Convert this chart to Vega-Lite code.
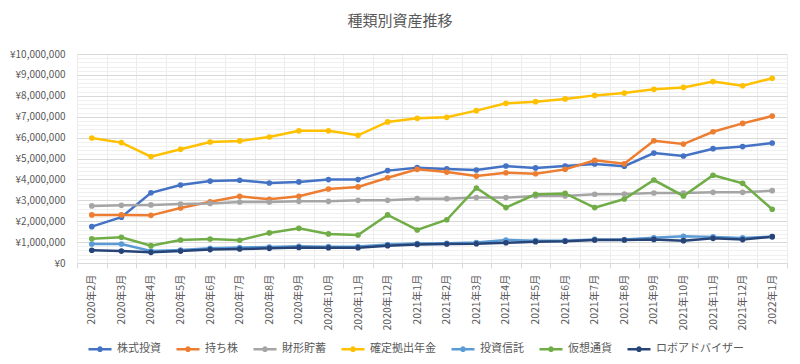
{
  "$schema": "https://vega.github.io/schema/vega-lite/v6.json",
  "width": 710,
  "height": 209,
  "autosize": {"type": "none"},
  "padding": {"left": 77, "top": 54, "right": 13, "bottom": 101},
  "background": "white",
  "title": {
    "text": "種類別資産推移",
    "font": "Noto Sans CJK JP",
    "fontSize": 15,
    "fontWeight": "normal",
    "color": "#595959",
    "anchor": "middle",
    "dx": -32,
    "offset": 20
  },
  "config": {
    "font": "Noto Sans CJK JP",
    "view": {"stroke": null},
    "axis": {"labelFont": "Noto Sans CJK JP", "labelColor": "#595959", "labelFontSize": 10}
  },
  "data": {
    "values": [
      {"m":"2020年2月","s":"株式投資","v":1740000},{"m":"2020年3月","s":"株式投資","v":2190000},{"m":"2020年4月","s":"株式投資","v":3360000},{"m":"2020年5月","s":"株式投資","v":3730000},{"m":"2020年6月","s":"株式投資","v":3920000},{"m":"2020年7月","s":"株式投資","v":3960000},{"m":"2020年8月","s":"株式投資","v":3830000},{"m":"2020年9月","s":"株式投資","v":3880000},{"m":"2020年10月","s":"株式投資","v":3990000},{"m":"2020年11月","s":"株式投資","v":3990000},{"m":"2020年12月","s":"株式投資","v":4420000},{"m":"2021年1月","s":"株式投資","v":4560000},{"m":"2021年2月","s":"株式投資","v":4500000},{"m":"2021年3月","s":"株式投資","v":4450000},{"m":"2021年4月","s":"株式投資","v":4640000},{"m":"2021年5月","s":"株式投資","v":4550000},{"m":"2021年6月","s":"株式投資","v":4640000},{"m":"2021年7月","s":"株式投資","v":4740000},{"m":"2021年8月","s":"株式投資","v":4630000},{"m":"2021年9月","s":"株式投資","v":5260000},{"m":"2021年10月","s":"株式投資","v":5120000},{"m":"2021年11月","s":"株式投資","v":5470000},{"m":"2021年12月","s":"株式投資","v":5570000},{"m":"2022年1月","s":"株式投資","v":5740000},
      {"m":"2020年2月","s":"持ち株","v":2300000},{"m":"2020年3月","s":"持ち株","v":2300000},{"m":"2020年4月","s":"持ち株","v":2280000},{"m":"2020年5月","s":"持ち株","v":2630000},{"m":"2020年6月","s":"持ち株","v":2930000},{"m":"2020年7月","s":"持ち株","v":3190000},{"m":"2020年8月","s":"持ち株","v":3050000},{"m":"2020年9月","s":"持ち株","v":3190000},{"m":"2020年10月","s":"持ち株","v":3540000},{"m":"2020年11月","s":"持ち株","v":3640000},{"m":"2020年12月","s":"持ち株","v":4080000},{"m":"2021年1月","s":"持ち株","v":4480000},{"m":"2021年2月","s":"持ち株","v":4350000},{"m":"2021年3月","s":"持ち株","v":4160000},{"m":"2021年4月","s":"持ち株","v":4320000},{"m":"2021年5月","s":"持ち株","v":4270000},{"m":"2021年6月","s":"持ち株","v":4480000},{"m":"2021年7月","s":"持ち株","v":4910000},{"m":"2021年8月","s":"持ち株","v":4750000},{"m":"2021年9月","s":"持ち株","v":5850000},{"m":"2021年10月","s":"持ち株","v":5690000},{"m":"2021年11月","s":"持ち株","v":6280000},{"m":"2021年12月","s":"持ち株","v":6680000},{"m":"2022年1月","s":"持ち株","v":7030000},
      {"m":"2020年2月","s":"財形貯蓄","v":2730000},{"m":"2020年3月","s":"財形貯蓄","v":2760000},{"m":"2020年4月","s":"財形貯蓄","v":2780000},{"m":"2020年5月","s":"財形貯蓄","v":2820000},{"m":"2020年6月","s":"財形貯蓄","v":2850000},{"m":"2020年7月","s":"財形貯蓄","v":2920000},{"m":"2020年8月","s":"財形貯蓄","v":2920000},{"m":"2020年9月","s":"財形貯蓄","v":2950000},{"m":"2020年10月","s":"財形貯蓄","v":2950000},{"m":"2020年11月","s":"財形貯蓄","v":3000000},{"m":"2020年12月","s":"財形貯蓄","v":3000000},{"m":"2021年1月","s":"財形貯蓄","v":3080000},{"m":"2021年2月","s":"財形貯蓄","v":3080000},{"m":"2021年3月","s":"財形貯蓄","v":3130000},{"m":"2021年4月","s":"財形貯蓄","v":3130000},{"m":"2021年5月","s":"財形貯蓄","v":3210000},{"m":"2021年6月","s":"財形貯蓄","v":3210000},{"m":"2021年7月","s":"財形貯蓄","v":3290000},{"m":"2021年8月","s":"財形貯蓄","v":3300000},{"m":"2021年9月","s":"財形貯蓄","v":3350000},{"m":"2021年10月","s":"財形貯蓄","v":3350000},{"m":"2021年11月","s":"財形貯蓄","v":3380000},{"m":"2021年12月","s":"財形貯蓄","v":3380000},{"m":"2022年1月","s":"財形貯蓄","v":3460000},
      {"m":"2020年2月","s":"確定拠出年金","v":5980000},{"m":"2020年3月","s":"確定拠出年金","v":5760000},{"m":"2020年4月","s":"確定拠出年金","v":5090000},{"m":"2020年5月","s":"確定拠出年金","v":5440000},{"m":"2020年6月","s":"確定拠出年金","v":5790000},{"m":"2020年7月","s":"確定拠出年金","v":5840000},{"m":"2020年8月","s":"確定拠出年金","v":6030000},{"m":"2020年9月","s":"確定拠出年金","v":6330000},{"m":"2020年10月","s":"確定拠出年金","v":6330000},{"m":"2020年11月","s":"確定拠出年金","v":6110000},{"m":"2020年12月","s":"確定拠出年金","v":6750000},{"m":"2021年1月","s":"確定拠出年金","v":6920000},{"m":"2021年2月","s":"確定拠出年金","v":6970000},{"m":"2021年3月","s":"確定拠出年金","v":7290000},{"m":"2021年4月","s":"確定拠出年金","v":7640000},{"m":"2021年5月","s":"確定拠出年金","v":7720000},{"m":"2021年6月","s":"確定拠出年金","v":7850000},{"m":"2021年7月","s":"確定拠出年金","v":8020000},{"m":"2021年8月","s":"確定拠出年金","v":8130000},{"m":"2021年9月","s":"確定拠出年金","v":8310000},{"m":"2021年10月","s":"確定拠出年金","v":8400000},{"m":"2021年11月","s":"確定拠出年金","v":8680000},{"m":"2021年12月","s":"確定拠出年金","v":8480000},{"m":"2022年1月","s":"確定拠出年金","v":8840000},
      {"m":"2020年2月","s":"投資信託","v":910000},{"m":"2020年3月","s":"投資信託","v":910000},{"m":"2020年4月","s":"投資信託","v":570000},{"m":"2020年5月","s":"投資信託","v":620000},{"m":"2020年6月","s":"投資信託","v":700000},{"m":"2020年7月","s":"投資信託","v":740000},{"m":"2020年8月","s":"投資信託","v":760000},{"m":"2020年9月","s":"投資信託","v":800000},{"m":"2020年10月","s":"投資信託","v":780000},{"m":"2020年11月","s":"投資信託","v":790000},{"m":"2020年12月","s":"投資信託","v":880000},{"m":"2021年1月","s":"投資信託","v":930000},{"m":"2021年2月","s":"投資信託","v":940000},{"m":"2021年3月","s":"投資信託","v":980000},{"m":"2021年4月","s":"投資信託","v":1100000},{"m":"2021年5月","s":"投資信託","v":1070000},{"m":"2021年6月","s":"投資信託","v":1070000},{"m":"2021年7月","s":"投資信託","v":1130000},{"m":"2021年8月","s":"投資信託","v":1120000},{"m":"2021年9月","s":"投資信託","v":1210000},{"m":"2021年10月","s":"投資信託","v":1280000},{"m":"2021年11月","s":"投資信託","v":1250000},{"m":"2021年12月","s":"投資信託","v":1200000},{"m":"2022年1月","s":"投資信託","v":1260000},
      {"m":"2020年2月","s":"仮想通貨","v":1160000},{"m":"2020年3月","s":"仮想通貨","v":1230000},{"m":"2020年4月","s":"仮想通貨","v":830000},{"m":"2020年5月","s":"仮想通貨","v":1100000},{"m":"2020年6月","s":"仮想通貨","v":1150000},{"m":"2020年7月","s":"仮想通貨","v":1090000},{"m":"2020年8月","s":"仮想通貨","v":1440000},{"m":"2020年9月","s":"仮想通貨","v":1660000},{"m":"2020年10月","s":"仮想通貨","v":1390000},{"m":"2020年11月","s":"仮想通貨","v":1340000},{"m":"2020年12月","s":"仮想通貨","v":2300000},{"m":"2021年1月","s":"仮想通貨","v":1580000},{"m":"2021年2月","s":"仮想通貨","v":2070000},{"m":"2021年3月","s":"仮想通貨","v":3590000},{"m":"2021年4月","s":"仮想通貨","v":2650000},{"m":"2021年5月","s":"仮想通貨","v":3290000},{"m":"2021年6月","s":"仮想通貨","v":3330000},{"m":"2021年7月","s":"仮想通貨","v":2650000},{"m":"2021年8月","s":"仮想通貨","v":3060000},{"m":"2021年9月","s":"仮想通貨","v":3970000},{"m":"2021年10月","s":"仮想通貨","v":3210000},{"m":"2021年11月","s":"仮想通貨","v":4200000},{"m":"2021年12月","s":"仮想通貨","v":3810000},{"m":"2022年1月","s":"仮想通貨","v":2570000},
      {"m":"2020年2月","s":"ロボアドバイザー","v":610000},{"m":"2020年3月","s":"ロボアドバイザー","v":570000},{"m":"2020年4月","s":"ロボアドバイザー","v":510000},{"m":"2020年5月","s":"ロボアドバイザー","v":570000},{"m":"2020年6月","s":"ロボアドバイザー","v":640000},{"m":"2020年7月","s":"ロボアドバイザー","v":670000},{"m":"2020年8月","s":"ロボアドバイザー","v":700000},{"m":"2020年9月","s":"ロボアドバイザー","v":740000},{"m":"2020年10月","s":"ロボアドバイザー","v":730000},{"m":"2020年11月","s":"ロボアドバイザー","v":730000},{"m":"2020年12月","s":"ロボアドバイザー","v":830000},{"m":"2021年1月","s":"ロボアドバイザー","v":890000},{"m":"2021年2月","s":"ロボアドバイザー","v":910000},{"m":"2021年3月","s":"ロボアドバイザー","v":920000},{"m":"2021年4月","s":"ロボアドバイザー","v":970000},{"m":"2021年5月","s":"ロボアドバイザー","v":1020000},{"m":"2021年6月","s":"ロボアドバイザー","v":1040000},{"m":"2021年7月","s":"ロボアドバイザー","v":1100000},{"m":"2021年8月","s":"ロボアドバイザー","v":1100000},{"m":"2021年9月","s":"ロボアドバイザー","v":1130000},{"m":"2021年10月","s":"ロボアドバイザー","v":1070000},{"m":"2021年11月","s":"ロボアドバイザー","v":1180000},{"m":"2021年12月","s":"ロボアドバイザー","v":1120000},{"m":"2022年1月","s":"ロボアドバイザー","v":1260000}
    ]
  },
  "mark": {"type": "line", "strokeWidth": 2.5, "point": {"filled": true, "size": 32}},
  "encoding": {
    "x": {
      "field": "m",
      "type": "nominal",
      "sort": null,
      "title": null,
      "scale": {"paddingInner": 0, "paddingOuter": 0},
      "axis": {
        "labelAngle": -90,
        "labelAlign": "right",
        "labelBaseline": "middle",
        "labelPadding": 6,
        "labelFontSize": 10.5,
        "tickBand": "extent",
        "ticks": true,
        "tickSize": 5,
        "tickColor": "#d9d9d9",
        "domainColor": "#d9d9d9",
        "grid": true,
        "gridColor": "#ececec"
      }
    },
    "y": {
      "field": "v",
      "type": "quantitative",
      "title": null,
      "scale": {"domain": [0, 10000000], "nice": false},
      "axis": {
        "values": [0,200000,400000,600000,800000,1000000,1200000,1400000,1600000,1800000,2000000,2200000,2400000,2600000,2800000,3000000,3200000,3400000,3600000,3800000,4000000,4200000,4400000,4600000,4800000,5000000,5200000,5400000,5600000,5800000,6000000,6200000,6400000,6600000,6800000,7000000,7200000,7400000,7600000,7800000,8000000,8200000,8400000,8600000,8800000,9000000,9200000,9400000,9600000,9800000,10000000],
        "labelExpr": "datum.value % 1000000 === 0 ? '¥' + format(datum.value, ',') : ''",
        "ticks": false,
        "domain": false,
        "labelPadding": 12,
        "labelFontSize": 10,
        "gridColor": {"condition": {"test": "datum.value % 1000000 === 0", "value": "#d9d9d9"}, "value": "#f0f0f0"}
      }
    },
    "color": {
      "field": "s",
      "type": "nominal",
      "scale": {
        "domain": ["株式投資","持ち株","財形貯蓄","確定拠出年金","投資信託","仮想通貨","ロボアドバイザー"],
        "range": ["#4472C4","#ED7D31","#A5A5A5","#FFC000","#5B9BD5","#70AD47","#264478"]
      },
      "legend": {
        "title": null,
        "orient": "none",
        "legendX": 10,
        "legendY": 282,
        "direction": "horizontal",
        "symbolType": "M-1,0H1M-0.14,0A0.14,0.14,0,1,0,0.14,0A0.14,0.14,0,1,0,-0.14,0",
        "symbolSize": 529,
        "symbolStrokeWidth": 2.5,
        "labelFontSize": 11,
        "labelColor": "#595959",
        "labelOffset": 4,
        "columnPadding": 10
      }
    }
  }
}
